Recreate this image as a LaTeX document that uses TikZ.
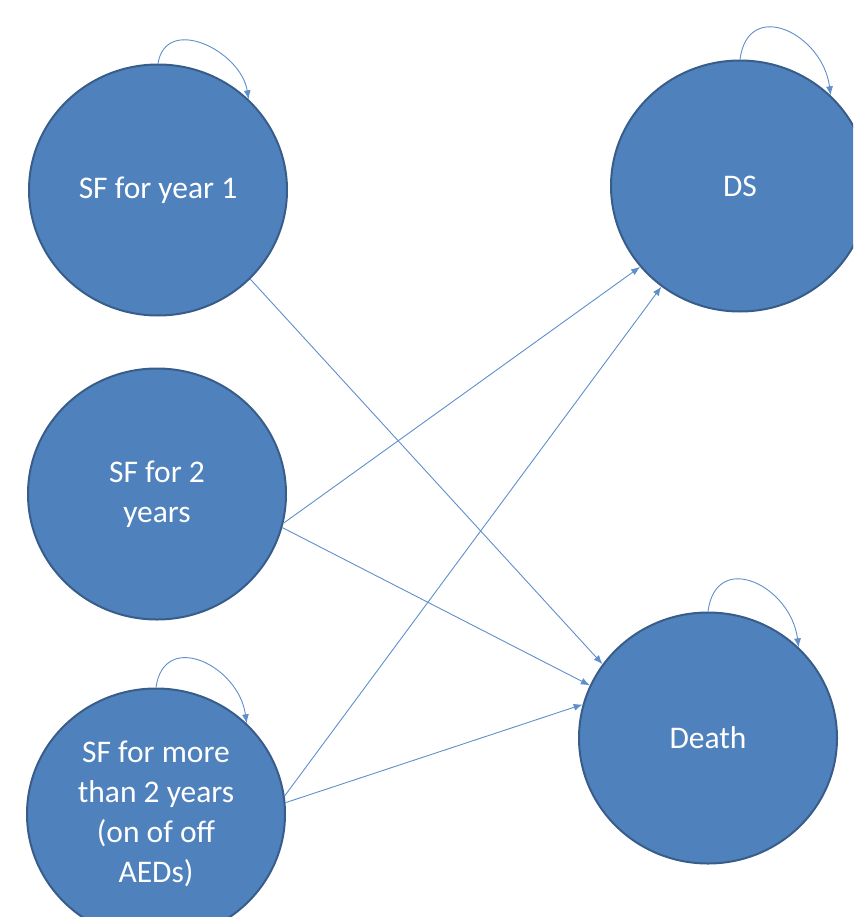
\documentclass[tikz,border=0pt]{standalone}
\usepackage{fontspec}
\setmainfont{Carlito}
\usetikzlibrary{positioning,shapes.geometric,arrows.meta}
\definecolor{stateblue}{HTML}{4F81BD}
\definecolor{stateedge}{HTML}{385D8A}
\definecolor{linkblue}{HTML}{5F8FCB}

\begin{document}
\begin{tikzpicture}[x=1pt,y=-1pt,
  state/.style={ellipse,draw=stateedge,line width=2pt,fill=stateblue,text=white,
    minimum width=258pt,minimum height=251pt,inner sep=0pt,align=center,
    font=\fontsize{31.5}{40}\selectfont},
  link/.style={draw=linkblue,line width=0.9pt,-{Latex[length=9pt,width=7pt]}}]

  \useasboundingbox (0,0) rectangle (853,917);
  \clip (0,0) rectangle (853,917);

  %states
  \foreach \x/\y/\name/\txt in {158/190/sfa/SF for year 1,
      157/494/sfb/SF for 2\\years,
      156/814/sfc/SF for more\\than 2 years\\(on of off\\AEDs),
      740/186/ds/DS,
      708/738/death/Death}{
    \node[state] (\name) at (\x,\y) {\txt};
  }

  %self loops
  \foreach \s/\h in {sfa/49,sfc/58,ds/62,death/62}{
    \draw[link] (\s.90) .. controls +(8,-\h) and +(-8,-\h) .. (\s.45);
  }

  %transitions
  \draw[link] (sfa.-44) -- (death.145);
  \draw[link] (sfb.-13) -- (ds.219);
  \draw[link] (sfb.-15) -- (death.156);
  \draw[link] (sfc.8) -- (ds.232);
  \draw[link] (sfc.5) -- (death.165);

\end{tikzpicture}
\end{document}
